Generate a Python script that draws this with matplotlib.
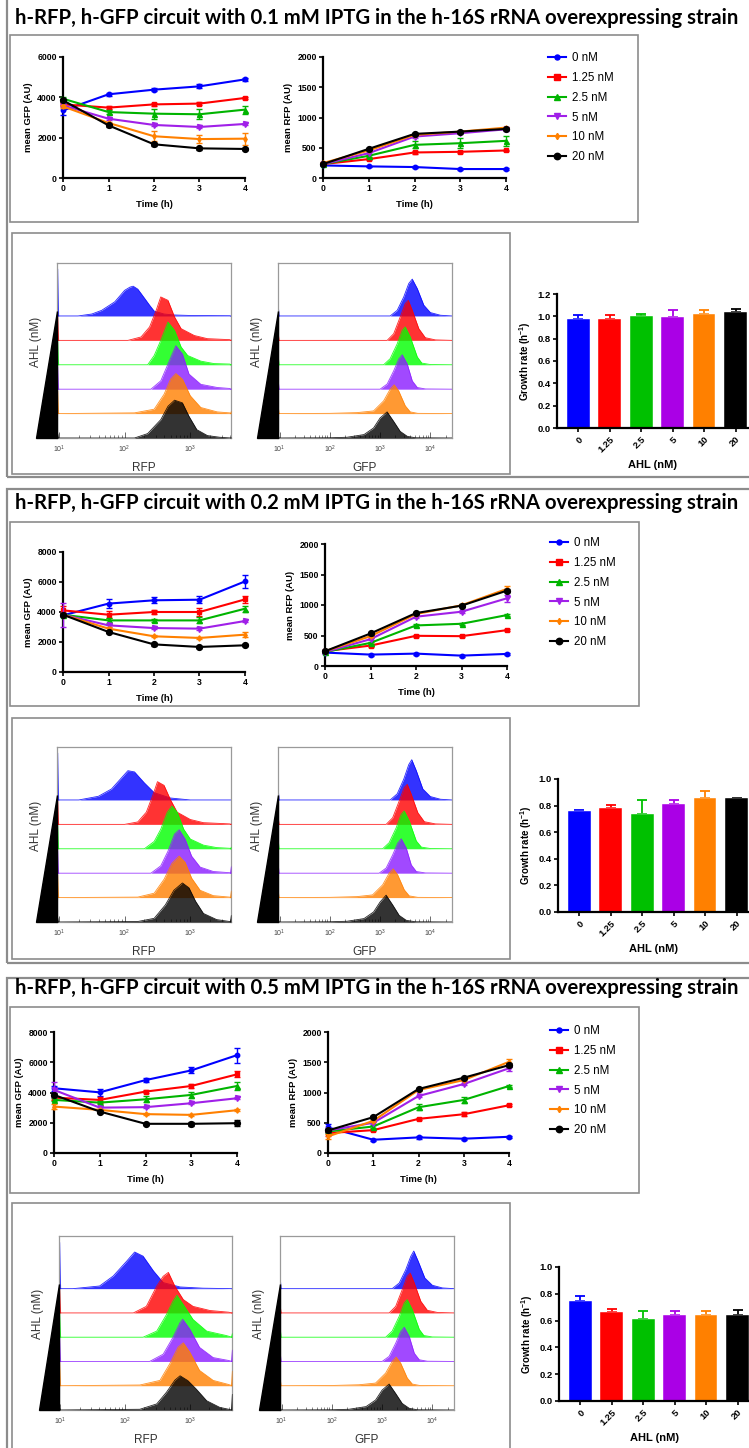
import numpy as np
import matplotlib
matplotlib.use('Agg')
import matplotlib.pyplot as plt
from matplotlib.patches import Rectangle, Polygon
from matplotlib.lines import Line2D
from matplotlib.ticker import LogLocator, NullFormatter, FormatStrFormatter

W, H = 749, 1448

# ------------------------------------------------------------------ data
TIME = [0, 1, 2, 3, 4]
AHL_LEGEND = ['0 nM', '1.25 nM', '2.5 nM', '5 nM', '10 nM', '20 nM']
AHL_TICKS = ['0', '1.25', '2.5', '5', '10', '20']
TITLES = ['h-RFP, h-GFP circuit with 0.1 mM IPTG in the h-16S rRNA overexpressing strain',
          'h-RFP, h-GFP circuit with 0.2 mM IPTG in the h-16S rRNA overexpressing strain',
          'h-RFP, h-GFP circuit with 0.5 mM IPTG in the h-16S rRNA overexpressing strain']

# --- panel 1 (0.1 mM IPTG)
P1_GFP = [[3350, 4150, 4380, 4545, 4890],
          [3650, 3490, 3650, 3690, 3970],
          [3930, 3270, 3190, 3160, 3390],
          [3600, 2940, 2630, 2530, 2680],
          [3550, 2730, 2070, 1930, 1950],
          [3850, 2610, 1670, 1470, 1440]]
P1_GFP_ERR = [[250, 60, 60, 100, 80],
              [60, 60, 60, 60, 60],
              [100, 100, 250, 250, 200],
              [60, 50, 50, 50, 50],
              [60, 60, 250, 200, 300],
              [60, 60, 60, 60, 60]]
P1_RFP = [[208, 192, 181, 148, 148],
          [230, 312, 422, 433, 455],
          [230, 367, 548, 575, 614],
          [230, 411, 685, 740, 805],
          [247, 455, 712, 767, 833],
          [230, 482, 729, 767, 811]]
P1_RFP_ERR = [[15, 10, 10, 10, 10],
              [15, 15, 20, 20, 15],
              [15, 20, 60, 80, 80],
              [15, 20, 20, 20, 20],
              [15, 15, 15, 15, 15],
              [15, 15, 15, 15, 15]]
P1_GROWTH = [0.975, 0.98, 1.005, 0.99, 1.02, 1.04]
P1_GROWTH_ERR = [0.04, 0.03, 0.015, 0.065, 0.035, 0.03]

# --- panel 2 (0.2 mM IPTG)
P2_GFP = [[3780, 4560, 4780, 4820, 6040],
          [4110, 3820, 4000, 4000, 4840],
          [3820, 3440, 3440, 3440, 4220],
          [3820, 3110, 2930, 2890, 3400],
          [3820, 2890, 2380, 2270, 2490],
          [3820, 2670, 1840, 1670, 1780]]
P2_GFP_ERR = [[100, 300, 200, 250, 450],
              [300, 250, 150, 250, 250],
              [100, 150, 80, 200, 200],
              [800, 80, 80, 80, 80],
              [100, 80, 80, 80, 150],
              [100, 80, 80, 80, 80]]
P2_RFP = [[220, 187, 203, 170, 198],
          [242, 335, 495, 489, 588],
          [230, 379, 665, 692, 835],
          [230, 440, 808, 890, 1110],
          [242, 489, 852, 995, 1264],
          [242, 533, 868, 989, 1236]]
P2_RFP_ERR = [[15, 15, 15, 15, 15],
              [15, 20, 20, 20, 20],
              [15, 20, 20, 20, 20],
              [40, 20, 20, 20, 60],
              [15, 20, 20, 20, 40],
              [15, 20, 20, 20, 30]]
P2_GROWTH = [0.76, 0.78, 0.74, 0.81, 0.86, 0.855]
P2_GROWTH_ERR = [0.01, 0.025, 0.105, 0.035, 0.05, 0.005]

# --- panel 3 (0.5 mM IPTG)
P3_GFP = [[4280, 4010, 4820, 5460, 6470],
          [3660, 3510, 4060, 4430, 5200],
          [3510, 3330, 3550, 3840, 4430],
          [4170, 3000, 3030, 3290, 3620],
          [3070, 2850, 2570, 2520, 2830],
          [3840, 2740, 1930, 1930, 1970]]
P3_GFP_ERR = [[150, 250, 150, 200, 500],
              [150, 200, 100, 100, 200],
              [100, 100, 200, 200, 250],
              [500, 80, 80, 80, 80],
              [150, 80, 80, 80, 80],
              [100, 80, 80, 150, 200]]
P3_RFP = [[422, 219, 258, 236, 268],
          [329, 378, 564, 641, 789],
          [356, 438, 756, 877, 1107],
          [373, 499, 942, 1140, 1400],
          [274, 531, 1041, 1205, 1507],
          [373, 592, 1058, 1244, 1452]]
P3_RFP_ERR = [[60, 20, 20, 20, 20],
              [40, 20, 20, 30, 20],
              [20, 20, 50, 50, 20],
              [20, 20, 20, 20, 50],
              [40, 20, 20, 20, 40],
              [20, 20, 20, 20, 30]]
P3_GROWTH = [0.75, 0.665, 0.615, 0.64, 0.64, 0.64]
P3_GROWTH_ERR = [0.035, 0.02, 0.06, 0.035, 0.035, 0.04]

# --- flow histograms: knots (log10 fluorescence, height in row units), rows 0 nM .. 20 nM
P1_RFP_HX = [[1.29, 1.5, 1.65, 1.85, 2.0, 2.08, 2.13, 2.2, 2.25, 2.38, 2.45, 2.6, 2.76, 3.0, 3.6],
             [2.05, 2.25, 2.38, 2.48, 2.55, 2.66, 2.76, 2.86, 3.06, 3.26, 3.6],
             [2.35, 2.45, 2.55, 2.66, 2.76, 2.86, 2.96, 3.16, 3.36, 3.6],
             [2.4, 2.55, 2.66, 2.78, 2.88, 2.98, 3.16, 3.41, 3.6],
             [2.15, 2.45, 2.6, 2.7, 2.78, 2.88, 3.0, 3.16, 3.41, 3.6],
             [2.15, 2.35, 2.55, 2.66, 2.76, 2.88, 2.98, 3.1, 3.26, 3.45]]
P1_RFP_HY = [[0, 0.08, 0.23, 0.58, 1.05, 1.18, 1.22, 1.1, 0.92, 0.44, 0.2, 0.08, 0.04, 0.02, 0.01],
             [0, 0.14, 0.55, 1.23, 1.78, 1.64, 0.96, 0.48, 0.2, 0.07, 0.03],
             [0, 0.38, 1.0, 1.75, 1.41, 0.73, 0.38, 0.15, 0.05, 0.03],
             [0, 0.34, 1.03, 1.78, 1.44, 0.62, 0.2, 0.07, 0.03],
             [0.03, 0.18, 0.79, 1.41, 1.64, 1.41, 0.73, 0.25, 0.07, 0.03],
             [0, 0.18, 0.75, 1.3, 1.55, 1.44, 0.89, 0.34, 0.1, 0.03]]
P1_RFP_SPIKE = [1.95, 1.0, 1.0, 0.95, 0.95, 0.2]
P1_RFP_RSPIKE = [0.03, 0.05, 0.05, 0.05, 0.12, 0.05]
P1_GFP_HX = [[3.2, 3.34, 3.47, 3.57, 3.64, 3.74, 3.87, 4.0, 4.2],
             [3.14, 3.27, 3.4, 3.5, 3.56, 3.64, 3.77, 3.9, 4.1],
             [3.07, 3.2, 3.34, 3.44, 3.5, 3.6, 3.74, 3.83, 4.0],
             [3.0, 3.14, 3.27, 3.37, 3.44, 3.54, 3.64, 3.74, 3.9],
             [2.0, 2.54, 2.87, 3.07, 3.2, 3.28, 3.37, 3.5, 3.6, 3.75],
             [2.0, 2.34, 2.68, 2.87, 3.0, 3.14, 3.27, 3.4, 3.54, 3.7]]
P1_GFP_HY = [[0, 0.23, 0.78, 1.33, 1.51, 1.12, 0.44, 0.14, 0.03],
             [0, 0.27, 0.96, 1.51, 1.64, 1.23, 0.48, 0.11, 0.02],
             [0, 0.25, 0.86, 1.41, 1.55, 1.14, 0.32, 0.07, 0.01],
             [0, 0.21, 0.75, 1.23, 1.41, 1.03, 0.34, 0.07, 0.01],
             [0.01, 0.04, 0.11, 0.52, 1.0, 1.18, 0.93, 0.32, 0.07, 0.01],
             [0.01, 0.03, 0.14, 0.41, 0.82, 1.07, 0.68, 0.27, 0.07, 0.01]]
P1_GFP_SPIKE = [0.3, 0.2, 0.25, 0.25, 0.2, 0.1]
P1_GFP_RSPIKE = [0, 0, 0, 0, 0, 0]

P2_RFP_HX = [[1.3, 1.6, 1.8, 1.95, 2.05, 2.15, 2.3, 2.45, 2.7, 3.0],
             [2.0, 2.2, 2.33, 2.43, 2.5, 2.6, 2.7, 2.8, 3.0, 3.2, 3.6],
             [2.3, 2.45, 2.55, 2.65, 2.72, 2.8, 2.9, 3.0, 3.2, 3.4, 3.6],
             [2.4, 2.55, 2.66, 2.76, 2.83, 2.92, 3.02, 3.15, 3.35, 3.6],
             [2.2, 2.45, 2.6, 2.72, 2.83, 2.92, 3.02, 3.15, 3.35, 3.6],
             [2.2, 2.45, 2.62, 2.75, 2.88, 2.98, 3.08, 3.2, 3.4, 3.6]]
P2_RFP_HY = [[0, 0.15, 0.45, 0.9, 1.2, 1.15, 0.7, 0.3, 0.08, 0],
             [0, 0.1, 0.5, 1.2, 1.75, 1.6, 1.0, 0.5, 0.2, 0.07, 0.02],
             [0, 0.3, 0.8, 1.5, 1.75, 1.5, 0.8, 0.4, 0.15, 0.05, 0.02],
             [0, 0.3, 0.9, 1.6, 1.78, 1.4, 0.7, 0.25, 0.07, 0.02],
             [0.02, 0.18, 0.75, 1.4, 1.7, 1.45, 0.8, 0.3, 0.08, 0.02],
             [0.02, 0.15, 0.7, 1.3, 1.6, 1.4, 0.85, 0.35, 0.1, 0.02]]
P2_RFP_SPIKE = [1.95, 1.0, 1.0, 0.95, 0.95, 0.2]
P2_RFP_RSPIKE = [0, 0.05, 0.1, 0.3, 0.3, 0.3]
P2_GFP_HX = [[3.2, 3.34, 3.47, 3.57, 3.63, 3.72, 3.85, 4.0, 4.2],
             [3.12, 3.25, 3.38, 3.48, 3.54, 3.62, 3.75, 3.88, 4.1],
             [3.05, 3.18, 3.32, 3.42, 3.48, 3.58, 3.72, 3.82, 4.0],
             [2.98, 3.12, 3.25, 3.35, 3.42, 3.52, 3.62, 3.72, 3.9],
             [2.0, 2.54, 2.85, 3.05, 3.18, 3.26, 3.35, 3.48, 3.58, 3.75],
             [2.0, 2.34, 2.68, 2.87, 3.0, 3.12, 3.25, 3.38, 3.52, 3.7]]
P2_GFP_HY = [[0, 0.25, 0.85, 1.45, 1.65, 1.2, 0.45, 0.14, 0.03],
             [0, 0.27, 0.96, 1.51, 1.64, 1.23, 0.48, 0.11, 0.02],
             [0, 0.25, 0.86, 1.41, 1.55, 1.14, 0.32, 0.07, 0.01],
             [0, 0.21, 0.75, 1.23, 1.41, 1.03, 0.34, 0.07, 0.01],
             [0.01, 0.04, 0.11, 0.52, 1.0, 1.18, 0.93, 0.32, 0.07, 0.01],
             [0.01, 0.03, 0.14, 0.41, 0.82, 1.1, 0.7, 0.27, 0.07, 0.01]]
P2_GFP_SPIKE = [0.3, 0.2, 0.25, 0.25, 0.2, 0.1]
P2_GFP_RSPIKE = [0, 0, 0, 0, 0, 0]

P3_RFP_HX = [[1.2, 1.61, 1.82, 2.03, 2.15, 2.28, 2.44, 2.59, 2.85, 3.2],
             [2.13, 2.33, 2.49, 2.59, 2.67, 2.77, 2.9, 3.05, 3.31, 3.6],
             [2.28, 2.49, 2.64, 2.74, 2.8, 2.9, 3.05, 3.26, 3.56],
             [2.38, 2.59, 2.74, 2.85, 2.89, 3.0, 3.15, 3.36, 3.6],
             [2.23, 2.54, 2.69, 2.82, 2.9, 3.0, 3.15, 3.36, 3.6],
             [2.23, 2.49, 2.64, 2.77, 2.85, 2.97, 3.1, 3.26, 3.46, 3.6]]
P3_RFP_HY = [[0, 0.11, 0.52, 1.14, 1.51, 1.34, 0.73, 0.25, 0.07, 0.02],
             [0, 0.27, 1.1, 1.51, 1.67, 1.1, 0.55, 0.27, 0.1, 0.03],
             [0, 0.25, 0.93, 1.48, 1.73, 1.34, 0.73, 0.25, 0.07],
             [0, 0.3, 0.99, 1.6, 1.74, 1.33, 0.58, 0.16, 0.04],
             [0.03, 0.22, 0.9, 1.59, 1.77, 1.38, 0.63, 0.22, 0.05],
             [0.03, 0.25, 0.73, 1.23, 1.41, 1.21, 0.86, 0.38, 0.11, 0.03]]
P3_RFP_SPIKE = [1.93, 1.0, 1.0, 1.0, 1.0, 0.1]
P3_RFP_RSPIKE = [0.02, 0.05, 0.18, 0.5, 0.63, 0.68]
P3_GFP_HX = [[3.2, 3.34, 3.47, 3.57, 3.63, 3.72, 3.85, 4.0, 4.2],
             [3.14, 3.27, 3.4, 3.5, 3.56, 3.64, 3.77, 3.9, 4.1],
             [3.07, 3.2, 3.34, 3.44, 3.5, 3.6, 3.74, 3.83, 4.0],
             [3.0, 3.14, 3.27, 3.37, 3.44, 3.54, 3.64, 3.74, 3.9],
             [2.0, 2.54, 2.87, 3.07, 3.2, 3.28, 3.37, 3.5, 3.6, 3.75],
             [2.0, 2.34, 2.68, 2.87, 3.0, 3.14, 3.27, 3.4, 3.54, 3.7]]
P3_GFP_HY = [[0, 0.23, 0.78, 1.33, 1.55, 1.12, 0.44, 0.14, 0.03],
             [0, 0.27, 0.96, 1.51, 1.64, 1.23, 0.48, 0.11, 0.02],
             [0, 0.25, 0.86, 1.41, 1.55, 1.14, 0.32, 0.07, 0.01],
             [0, 0.21, 0.75, 1.23, 1.41, 1.03, 0.34, 0.07, 0.01],
             [0.01, 0.04, 0.11, 0.52, 1.0, 1.18, 0.93, 0.32, 0.07, 0.01],
             [0.01, 0.03, 0.14, 0.41, 0.82, 1.07, 0.68, 0.27, 0.07, 0.01]]
P3_GFP_SPIKE = [0.3, 0.2, 0.25, 0.25, 0.2, 0.1]
P3_GFP_RSPIKE = [0, 0, 0, 0, 0, 0]

# ------------------------------------------------------------------ style
LINE_COLORS = ['#0000ff', '#ff0000', '#00b400', '#a020e8', '#ff8000', '#000000']
BAR_COLORS = ['#0000ff', '#ff0000', '#00c000', '#aa00e6', '#ff8000', '#000000']
HIST_COLORS = ['#0000ff', '#ff0000', '#00ff00', '#8a1cff', '#ff8000', '#000000']
MARKERS = ['o', 's', '^', 'v', 'd', 'o']
MSIZES = [3.2, 3.4, 3.6, 3.6, 2.8, 4.2]

plt.rcParams['font.family'] = ['Liberation Sans', 'DejaVu Sans']
plt.rcParams['mathtext.fontset'] = 'custom'
plt.rcParams['mathtext.rm'] = 'Liberation Sans'
plt.rcParams['mathtext.bf'] = 'Liberation Sans:bold'

fig = plt.figure(figsize=(W / 100, H / 100), dpi=100)


def ax_px(l, t, r, b):
    return fig.add_axes([l / W, 1 - b / H, (r - l) / W, (b - t) / H])


def frame_px(l, t, r, b, color='#8c8c8c', lw=1.3):
    fig.add_artist(Rectangle((l / W, 1 - b / H), (r - l) / W, (b - t) / H,
                             transform=fig.transFigure, fill=False,
                             edgecolor=color, lw=lw, zorder=-5))


def prism(ax, size=6.2):
    for s in ['top', 'right']:
        ax.spines[s].set_visible(False)
    for s in ['left', 'bottom']:
        ax.spines[s].set_linewidth(1.6)
    ax.tick_params(direction='out', length=3, width=1.2, labelsize=size, pad=1.5)
    for lab in ax.get_xticklabels() + ax.get_yticklabels():
        lab.set_fontweight('bold')


def line_chart(rect, means, errs, ymax, ystep, ylabel):
    ax = ax_px(*rect)
    for i in range(6):
        ax.errorbar(TIME, means[i], yerr=errs[i], color=LINE_COLORS[i], marker=MARKERS[i],
                    ms=MSIZES[i], lw=1.5, elinewidth=1.0, capsize=2.5, capthick=1.0,
                    clip_on=False, zorder=3 + i * 0.1)
    ax.set_xlim(0, 4)
    ax.set_ylim(0, ymax)
    ax.set_xticks(TIME)
    ax.set_yticks(np.arange(0, ymax + 1, ystep))
    prism(ax)
    ax.set_xlabel('Time (h)', fontsize=6.8, fontweight='bold', labelpad=5)
    ax.set_ylabel(ylabel, fontsize=6.8, fontweight='bold', labelpad=3)
    return ax


def legend_px(x, y):
    handles = [Line2D([], [], color=LINE_COLORS[i], marker=MARKERS[i], ms=MSIZES[i] + 0.4, lw=1.5)
               for i in range(6)]
    fig.legend(handles, AHL_LEGEND, loc='upper left', bbox_to_anchor=(x / W, 1 - y / H),
               bbox_transform=fig.transFigure, frameon=False, borderpad=0, borderaxespad=0,
               handlelength=1.55, handletextpad=0.55, labelspacing=0.68, fontsize=8.3)


def hist_chart(rect, hx, hy, spikes, rspikes, xlo, xhi, label):
    ax = ax_px(*rect)
    ax.set_xscale('log')
    ax.set_xlim(10 ** xlo, 10 ** xhi)
    ax.set_ylim(0, 7.17)
    for i in range(6):
        base = 5 - i
        x = np.array([xlo] + hx[i] + [xhi])
        h = np.array([0] + hy[i] + [0])
        ax.fill_between(10 ** x, base, base + h, color=HIST_COLORS[i], alpha=0.8, lw=0, zorder=2 + i)
        ax.plot(10 ** x, base + h, color=HIST_COLORS[i], lw=0.6, alpha=0.85, zorder=2 + i)
        sx = 10 ** np.array([xlo, xlo + 0.01, xlo + 0.025])
        ax.fill_between(sx, base, base + np.array([spikes[i], spikes[i], 0]),
                        color=HIST_COLORS[i], alpha=0.8, lw=0, zorder=2 + i)
        if rspikes[i] > 0:
            rx = 10 ** np.array([xhi - 0.025, xhi - 0.008, xhi])
            ax.fill_between(rx, base, base + np.array([0, rspikes[i], rspikes[i]]),
                            color=HIST_COLORS[i], alpha=0.8, lw=0, zorder=2 + i)
    for s in ax.spines.values():
        s.set_color('#9a9a9a')
        s.set_linewidth(0.9)
    ax.set_yticks([])
    ax.xaxis.set_major_locator(LogLocator(base=10, numticks=10))
    ax.xaxis.set_minor_locator(LogLocator(base=10, subs=np.arange(2, 10), numticks=10))
    ax.xaxis.set_minor_formatter(NullFormatter())
    ax.tick_params(axis='x', which='major', direction='in', length=4, width=0.6,
                   color='#555555', labelsize=5, labelcolor='#444444', pad=4)
    ax.tick_params(axis='x', which='minor', direction='in', length=2, width=0.5, color='#555555')
    ax.set_xlabel(label, fontsize=8.5, color='#333333', labelpad=5)
    ax.set_ylabel('AHL (nM)', fontsize=8.5, color='#333333', labelpad=1)
    ax.yaxis.set_label_coords(-0.085, 0.55)
    ax.add_patch(Polygon([(-0.118, 0), (0.0, 0), (0.0, 0.725)], closed=True,
                         transform=ax.transAxes, color='black', clip_on=False, zorder=10))
    return ax


def bar_chart(rect, vals, errs, ymax):
    l, t, r, b = rect
    ax = ax_px(*rect)
    x = np.arange(6)
    ax.bar(x, vals, width=0.73, color=BAR_COLORS, edgecolor='white', linewidth=0.3, zorder=2)
    for i in range(6):
        ax.errorbar(x[i], vals[i], yerr=[[0], [errs[i]]], color=BAR_COLORS[i], lw=0,
                    elinewidth=1.3, capsize=3.5, capthick=1.3, zorder=1)
    ax.set_xlim(-0.667, (r - l - 21) / 31.5)
    ax.set_ylim(0, ymax)
    ax.set_yticks(np.round(np.arange(0, ymax + 0.01, 0.2), 1))
    ax.yaxis.set_major_formatter(FormatStrFormatter('%.1f'))
    ax.set_xticks(x)
    ax.set_xticklabels(AHL_TICKS, rotation=45, ha='right', rotation_mode='anchor')
    prism(ax, size=6.8)
    ax.tick_params(axis='x', length=3, pad=2)
    ax.set_xlabel('AHL (nM)', fontsize=8, fontweight='bold', labelpad=4)
    ax.set_ylabel(r'Growth rate (h$^{\mathbf{-1}}$)', fontsize=7, fontweight='bold', labelpad=3)
    return ax


LAYOUT = [
    dict(title_y=18, outer=(7, -5, 770, 477), line_box=(10, 35, 638, 222), hist_box=(12, 233, 510, 474),
         gfp=(63, 57, 245, 178), rfp=(323, 57, 506, 178), leg=(548, 52),
         hrfp=(57, 263, 231, 438), hgfp=(278, 263, 452, 438), bar=(557, 294, 749, 428),
         rfp_lim=(0.97, 3.62)),
    dict(title_y=503, outer=(7, 489, 770, 963), line_box=(10, 522, 639, 706), hist_box=(12, 718, 510, 959),
         gfp=(63, 552, 245, 672), rfp=(325, 544, 507, 666), leg=(550, 537),
         hrfp=(57, 747, 231, 922), hgfp=(278, 747, 452, 922), bar=(558, 779, 749, 912),
         rfp_lim=(0.97, 3.62)),
    dict(title_y=988, outer=(7, 978, 770, 1470), line_box=(10, 1007, 639, 1193), hist_box=(12, 1203, 510, 1470),
         gfp=(54, 1032, 237, 1153), rfp=(328, 1032, 509, 1153), leg=(550, 1025),
         hrfp=(59, 1236, 232, 1410), hgfp=(280, 1236, 454, 1410), bar=(559, 1267, 749, 1401),
         rfp_lim=(0.985, 3.65)),
]

DATA = [
    (P1_GFP, P1_GFP_ERR, 6000, P1_RFP, P1_RFP_ERR, P1_RFP_HX, P1_RFP_HY, P1_RFP_SPIKE, P1_RFP_RSPIKE,
     P1_GFP_HX, P1_GFP_HY, P1_GFP_SPIKE, P1_GFP_RSPIKE, P1_GROWTH, P1_GROWTH_ERR, 1.2),
    (P2_GFP, P2_GFP_ERR, 8000, P2_RFP, P2_RFP_ERR, P2_RFP_HX, P2_RFP_HY, P2_RFP_SPIKE, P2_RFP_RSPIKE,
     P2_GFP_HX, P2_GFP_HY, P2_GFP_SPIKE, P2_GFP_RSPIKE, P2_GROWTH, P2_GROWTH_ERR, 1.0),
    (P3_GFP, P3_GFP_ERR, 8000, P3_RFP, P3_RFP_ERR, P3_RFP_HX, P3_RFP_HY, P3_RFP_SPIKE, P3_RFP_RSPIKE,
     P3_GFP_HX, P3_GFP_HY, P3_GFP_SPIKE, P3_GFP_RSPIKE, P3_GROWTH, P3_GROWTH_ERR, 1.0),
]

for k in range(3):
    L = LAYOUT[k]
    (gfp, gfp_e, gmax, rfp, rfp_e, rhx, rhy, rsp, rrsp,
     ghx, ghy, gsp, grsp, gr, gr_e, bmax) = DATA[k]
    frame_px(*L['outer'], color='#8c8c8c', lw=1.6)
    frame_px(*L['line_box'], color='#8c8c8c', lw=1.2)
    frame_px(*L['hist_box'], color='#8c8c8c', lw=1.2)
    fig.text(15 / W, 1 - L['title_y'] / H, TITLES[k], fontsize=14.6, fontweight='bold',
             family=['Lato', 'DejaVu Sans'], va='center', ha='left')
    line_chart(L['gfp'], gfp, gfp_e, gmax, 2000, 'mean GFP (AU)')
    line_chart(L['rfp'], rfp, rfp_e, 2000, 500, 'mean RFP (AU)')
    legend_px(*L['leg'])
    hist_chart(L['hrfp'], rhx, rhy, rsp, rrsp, L['rfp_lim'][0], L['rfp_lim'][1], 'RFP')
    hist_chart(L['hgfp'], ghx, ghy, gsp, grsp, 0.97, 4.43, 'GFP')
    bar_chart(L['bar'], gr, gr_e, bmax)

fig.savefig('out.png', dpi=100)
